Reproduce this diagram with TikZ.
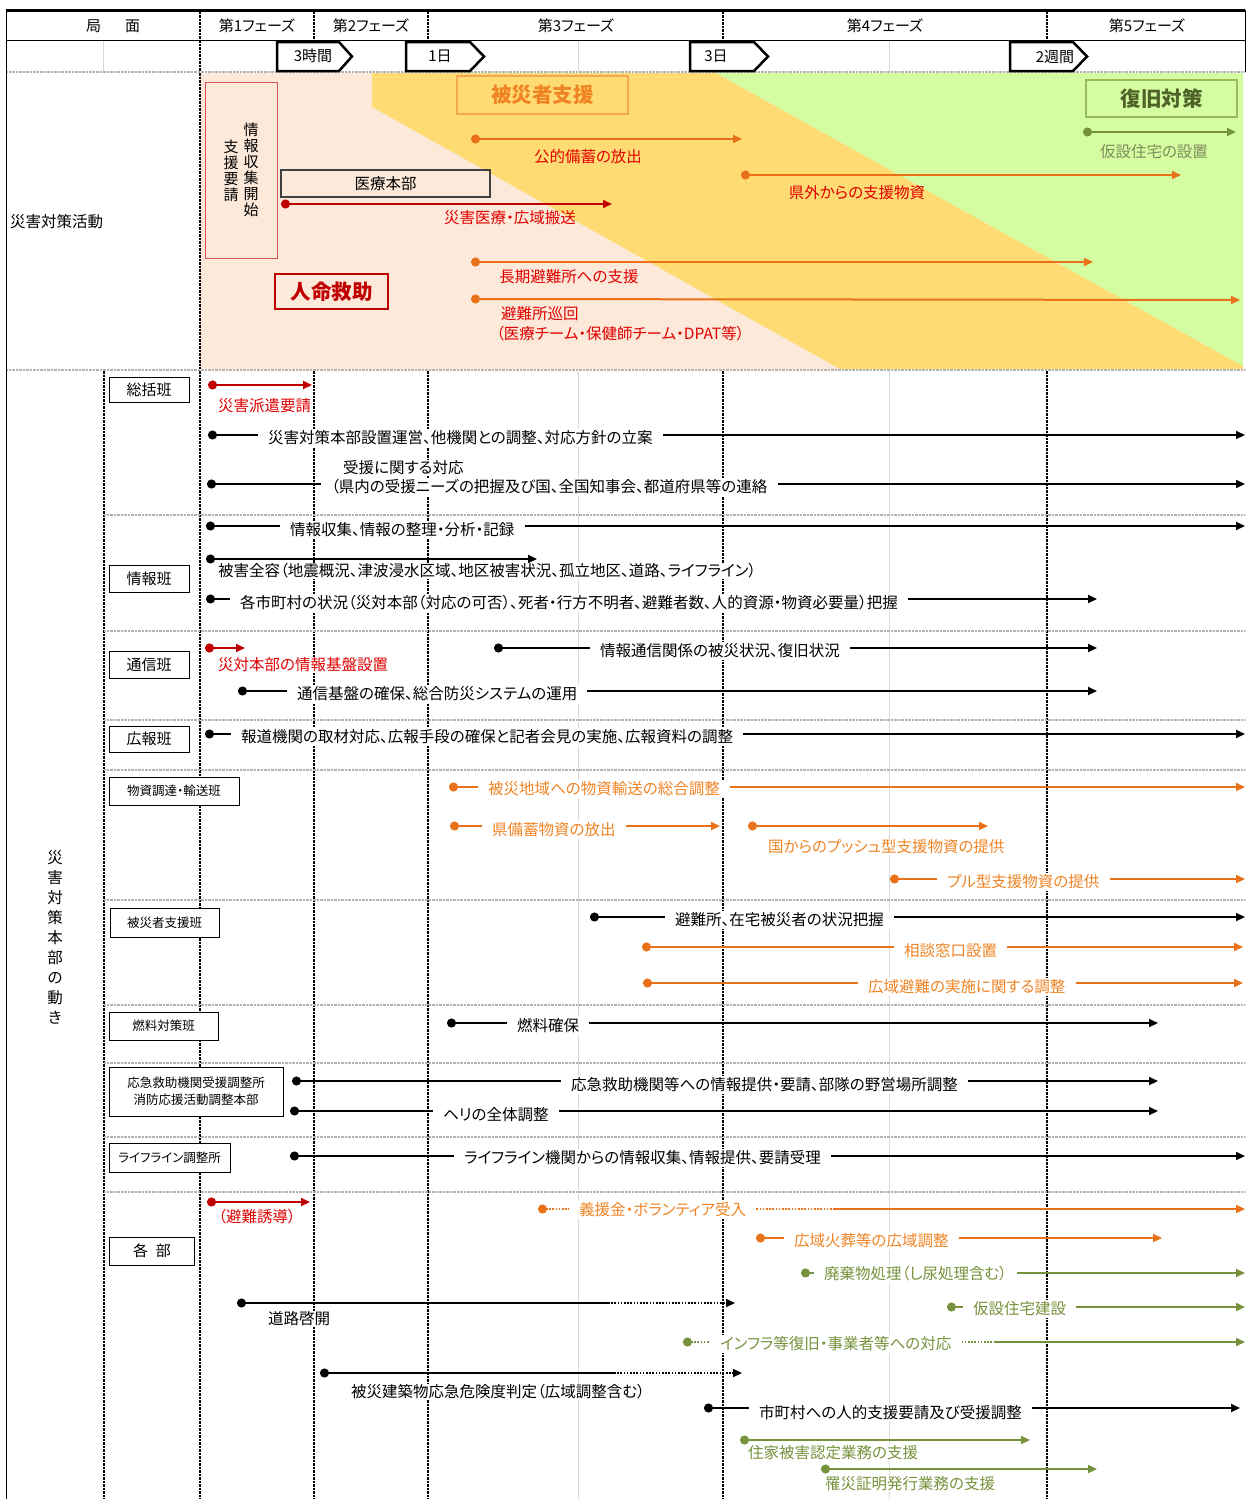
\documentclass[tikz,border=0pt]{standalone}
\usepackage{fontspec}
\setmainfont{Noto Sans CJK JP}[RawFeature=+palt]
\usetikzlibrary{arrows.meta}
\newcommand\fsz[2]{\fontsize{#1}{#2}\selectfont}
\definecolor{pch}{HTML}{FDE9D9}
\definecolor{yel}{HTML}{FFDC73}
\definecolor{grn}{HTML}{D4FCA0}
\definecolor{rdl}{HTML}{C00000}
\definecolor{rdt}{HTML}{E00000}
\definecolor{rdbox}{HTML}{E05050}
\definecolor{orl}{HTML}{E8711A}
\definecolor{ort}{HTML}{F08424}
\definecolor{orbox}{HTML}{F4A850}
\definecolor{gnl}{HTML}{76923C}
\definecolor{gnt}{HTML}{76923C}
\definecolor{gnbox}{HTML}{9BBB59}
\definecolor{gndk}{HTML}{4F6228}
\definecolor{gnlab}{HTML}{7F8C5C}
\definecolor{gry}{HTML}{D9D9D9}
\begin{document}
\begin{tikzpicture}[x=1pt,y=-1pt,
  every node/.style={inner sep=0pt},
  ln/.style={line width=2pt},
  dotS/.style={{Circle[length=9pt]}-},
  arrE/.style={-{Triangle[length=9pt,width=8pt]}},
  dotA/.style={{Circle[length=9pt]}-{Triangle[length=9pt,width=8pt]}},
  dotl/.style={dash pattern=on 1.6pt off 1.6pt},
  colline/.style={line width=1.2pt, dash pattern=on 2.5pt off 1pt},
  gridg/.style={draw=gry, line width=1pt},
  divider/.style={line width=2.4pt, draw=gray!60, dash pattern=on 0.8pt off 0.6pt},
  txt/.style={font=\fsz{15.5}{18}},
  lbl/.style={txt, fill=white, inner sep=1pt},
  cut/.style={txt, fill=white, inner xsep=10pt, inner ysep=1.5pt, anchor=west},
  blab/.style={draw, line width=1pt, fill=white, align=center},
  tbx/.style={line width=2.5pt, fill=white, line join=miter},
  hdr/.style={font=\fsz{15}{17}},
]
\useasboundingbox (0,0) rectangle (1247,1499);
\fill[white] (0,0) rectangle (1247,1499);

% ---------- top coloured area ----------
\fill[pch] (200,73) rectangle (1243,369);
\fill[yel] (372,73) -- (716,73) -- (1243,366) -- (1243,369) -- (840,369) -- (372,107) -- cycle;
\fill[grn] (716,73) -- (1243,73) -- (1243,366) -- cycle;

% ---------- grid ----------
\draw[gridg] (103,40) -- (103,71);
\draw[gridg] (578,40) -- (578,71);
\draw[gridg] (889,40) -- (889,71);
\draw[gridg] (578,371) -- (578,1499);
\draw[gridg] (889,371) -- (889,1499);
\foreach \x in {200,314,428,723,1047} \draw[colline] (\x,11.5) -- (\x,40);
\draw[colline] (200,40) -- (200,71);
\draw[colline] (200,73) -- (200,369);
\foreach \x in {104,200,314,428,723,1047} \draw[colline] (\x,371) -- (\x,1499);
\foreach \y in {515,631,720,770,900,1005,1063,1137,1192} \draw[divider] (104,\y) -- (1245,\y);
\draw[line width=3pt] (6,10) -- (1245,10);
\draw[line width=0.8pt] (6,40) -- (1245,40);
\draw[divider] (6,72) -- (1245,72);
\draw[divider] (6,370) -- (1245,370);
\draw[line width=1pt] (6,10) -- (6,1499);
\draw[line width=0.8pt] (1245,10) -- (1245,72);

% ---------- header ----------
\node[hdr] (hkyoku) at (113,26) {局\hspace{24pt}面};
\node[hdr] (hp1) at (257,26) {第1フェーズ};
\node[hdr] (hp2) at (371,26) {第2フェーズ};
\node[hdr] (hp3) at (576,26) {第3フェーズ};
\node[hdr] (hp4) at (885,26) {第4フェーズ};
\node[hdr] (hp5) at (1147,26) {第5フェーズ};
\draw[tbx] (277,42) -- (339,42) -- (352,56.5) -- (339,71) -- (277,71) -- cycle;
\node[hdr] (t3h) at (313,56) {3時間};
\draw[tbx] (406,42) -- (470,42) -- (484,56.5) -- (470,71) -- (406,71) -- cycle;
\node[hdr] (t1d) at (440,56) {1日};
\draw[tbx] (690,42) -- (754,42) -- (768,56.5) -- (754,71) -- (690,71) -- cycle;
\node[hdr] (t3d) at (716,56) {3日};
\draw[tbx] (1010,42) -- (1073,42) -- (1087,56.5) -- (1073,71) -- (1010,71) -- cycle;
\node[hdr] (t2w) at (1055,57) {2週間};

% ---------- top section ----------
\node[txt, anchor=west] (saigai) at (10,222) {災害対策活動};
\node[draw=rdbox, line width=1pt, minimum width=72pt, minimum height=176pt] (req) at (241,170) {};
\node[font=\fsz{15}{16}, align=center] (v1) at (251,170) {情\\報\\収\\集\\開\\始};
\node[font=\fsz{15}{16}, align=center] (v2) at (231,171) {支\\援\\要\\請};
\node[draw=black!75, line width=1.3pt, minimum width=209pt, minimum height=27pt, font=\fsz{15.5}{18}] (iryo) at (385.5,183.5) {医療本部};
\node[draw=rdl, line width=1.2pt, minimum width=113pt, minimum height=35pt, font=\bfseries\fsz{20.5}{23}, text=rdl] (jinmei) at (331.5,291.5) {人命救助};
\node[draw=orbox, line width=1.2pt, minimum width=171pt, minimum height=38pt, font=\bfseries\fsz{20.5}{23}, text=ort] (hisai) at (542.5,95) {被災者支援};
\node[draw=gnbox, line width=1.2pt, minimum width=151pt, minimum height=37pt, font=\bfseries\fsz{20.5}{23}, text=gndk] (fukkyu) at (1161.5,98.5) {復旧対策};

\coordinate (r1s) at (281,204); \coordinate (r1e) at (612,204);
\draw[rdl, ln, dotA] (r1s) -- (r1e);
\node[txt, text=rdt] (r1t) at (510,218) {災害医療・広域搬送};
\coordinate (k1s) at (471,139); \coordinate (k1e) at (742,139);
\draw[orl, ln, dotA] (k1s) -- (k1e);
\node[txt, text=rdt] (k1t) at (588,157) {公的備蓄の放出};
\coordinate (k2s) at (741,175); \coordinate (k2e) at (1181,175);
\draw[orl, ln, dotA] (k2s) -- (k2e);
\node[txt, text=rdt] (k2t) at (857,193) {県外からの支援物資};
\coordinate (k3s) at (471,262); \coordinate (k3e) at (1093,262);
\draw[orl, ln, dotA] (k3s) -- (k3e);
\node[txt, text=rdt] (k3t) at (569,277) {長期避難所への支援};
\coordinate (k4s) at (471,299); \coordinate (k4e) at (1240,300);
\draw[orl, ln, dotA] (k4s) -- (k4e);
\node[txt, text=rdt, anchor=west] (k4t) at (501,314) {避難所巡回};
\node[txt, text=rdt, anchor=west] (k4u) at (496,334) {（医療チーム・保健師チーム・DPAT等）};
\coordinate (g1s) at (1083,132); \coordinate (g1e) at (1236,132);
\draw[gnl, ln, dotA] (g1s) -- (g1e);
\node[txt, text=gnlab] (g1t) at (1154,152) {仮設住宅の設置};

% ---------- bottom section ----------
\node[font=\fsz{15.5}{20}, align=center] (honbu) at (55,937) {災\\害\\対\\策\\本\\部\\の\\動\\き};

% 総括班
\node[blab, font=\fsz{15}{17}, minimum width=80pt, minimum height=25pt] (sokatsu) at (149,389.5) {総括班};
\coordinate (a1s) at (208,385); \coordinate (a1e) at (312,385);
\draw[rdl, ln, dotA] (a1s) -- (a1e);
\node[lbl, text=rdt, anchor=west] (a1t) at (217,406) {災害派遣要請};

\coordinate (a2s) at (208,435); \coordinate (a2e) at (1245,435);
\node[cut] (a2t) at (258,438) {災害対策本部設置運営、他機関との調整、対応方針の立案};
\draw[ln, dotS] (a2s) -- (a2t.west |- a2s);
\draw[ln, arrE] (a2t.east |- a2s) -- (a2e);

\coordinate (a3s) at (207,484); \coordinate (a3e) at (1245,484);
\node[lbl, anchor=west] (a3u) at (342,468) {受援に関する対応};
\node[cut] (a3t) at (321,487) {（県内の受援ニーズの把握及び国、全国知事会、都道府県等の連絡};
\draw[ln, dotS] (a3s) -- (a3t.west |- a3s);
\draw[ln, arrE] (a3t.east |- a3s) -- (a3e);

% 情報班
\node[blab, font=\fsz{15}{17}, minimum width=80pt, minimum height=27pt] (joho) at (149,578.5) {情報班};
\coordinate (a4s) at (206,526); \coordinate (a4e) at (1245,526);
\node[cut] (a4t) at (280,530) {情報収集、情報の整理・分析・記録};
\draw[ln, dotS] (a4s) -- (a4t.west |- a4s);
\draw[ln, arrE] (a4t.east |- a4s) -- (a4e);

\coordinate (a5s) at (206,559); \coordinate (a5e) at (537,559);
\draw[ln, dotA] (a5s) -- (a5e);
\node[lbl, anchor=west] (a5t) at (217,571) {被害全容（地震概況、津波浸水区域、地区被害状況、孤立地区、道路、ライフライン）};

\coordinate (a6s) at (206,599); \coordinate (a6e) at (1097,599);
\node[cut] (a6t) at (230,603) {各市町村の状況（災対本部（対応の可否）、死者・行方不明者、避難者数、人的資源・物資必要量）把握};
\draw[ln, dotS] (a6s) -- (a6t.west |- a6s);
\draw[ln, arrE] (a6t.east |- a6s) -- (a6e);

% 通信班
\node[blab, font=\fsz{15}{17}, minimum width=80pt, minimum height=27pt] (tsushin) at (149,665) {通信班};
\coordinate (a7s) at (205,648); \coordinate (a7e) at (245,648);
\draw[rdl, ln, dotA] (a7s) -- (a7e);
\node[lbl, text=rdt, anchor=west] (a7t) at (217,665) {災対本部の情報基盤設置};

\coordinate (a8s) at (494,648); \coordinate (a8e) at (1097,648);
\node[cut] (a8t) at (590,651) {情報通信関係の被災状況、復旧状況};
\draw[ln, dotS] (a8s) -- (a8t.west |- a8s);
\draw[ln, arrE] (a8t.east |- a8s) -- (a8e);

\coordinate (a9s) at (238,691); \coordinate (a9e) at (1097,691);
\node[cut] (a9t) at (287,694) {通信基盤の確保、総合防災システムの運用};
\draw[ln, dotS] (a9s) -- (a9t.west |- a9s);
\draw[ln, arrE] (a9t.east |- a9s) -- (a9e);

% 広報班
\node[blab, font=\fsz{15}{17}, minimum width=80pt, minimum height=26pt] (koho) at (149,739) {広報班};
\coordinate (b1s) at (205,734); \coordinate (b1e) at (1245,734);
\node[cut] (b1t) at (231,737) {報道機関の取材対応、広報手段の確保と記者会見の実施、広報資料の調整};
\draw[ln, dotS] (b1s) -- (b1t.west |- b1s);
\draw[ln, arrE] (b1t.east |- b1s) -- (b1e);

% 物資調達・輸送班
\node[blab, font=\fsz{12.5}{14}, minimum width=130pt, minimum height=28pt] (busshi) at (174,791) {物資調達・輸送班};
\coordinate (b2s) at (449,787); \coordinate (b2e) at (1245,787);
\node[cut, text=ort] (b2t) at (478,789) {被災地域への物資輸送の総合調整};
\draw[orl, ln, dotS] (b2s) -- (b2t.west |- b2s);
\draw[orl, ln, arrE] (b2t.east |- b2s) -- (b2e);

\coordinate (b3s) at (450,826); \coordinate (b3e) at (720,826);
\node[cut, text=ort] (b3t) at (482,830) {県備蓄物資の放出};
\draw[orl, ln, dotS] (b3s) -- (b3t.west |- b3s);
\draw[orl, ln, arrE] (b3t.east |- b3s) -- (b3e);

\coordinate (b4s) at (748,826); \coordinate (b4e) at (988,826);
\draw[orl, ln, dotA] (b4s) -- (b4e);
\node[lbl, text=ort, anchor=west] (b4t) at (767,847) {国からのプッシュ型支援物資の提供};

\coordinate (b5s) at (890,879); \coordinate (b5e) at (1245,879);
\node[cut, text=ort] (b5t) at (937,882) {プル型支援物資の提供};
\draw[orl, ln, dotS] (b5s) -- (b5t.west |- b5s);
\draw[orl, ln, arrE] (b5t.east |- b5s) -- (b5e);

% 被災者支援班
\node[blab, font=\fsz{12.5}{14}, minimum width=109pt, minimum height=29pt] (hisaihan) at (164.5,922.5) {被災者支援班};
\coordinate (c1s) at (590,917); \coordinate (c1e) at (1245,917);
\node[cut] (c1t) at (665,920) {避難所、在宅被災者の状況把握};
\draw[ln, dotS] (c1s) -- (c1t.west |- c1s);
\draw[ln, arrE] (c1t.east |- c1s) -- (c1e);

\coordinate (c2s) at (642,947); \coordinate (c2e) at (1243,947);
\node[cut, text=ort] (c2t) at (894,951) {相談窓口設置};
\draw[orl, ln, dotS] (c2s) -- (c2t.west |- c2s);
\draw[orl, ln, arrE] (c2t.east |- c2s) -- (c2e);

\coordinate (c3s) at (643,983); \coordinate (c3e) at (1243,983);
\node[cut, text=ort] (c3t) at (858,987) {広域避難の実施に関する調整};
\draw[orl, ln, dotS] (c3s) -- (c3t.west |- c3s);
\draw[orl, ln, arrE] (c3t.east |- c3s) -- (c3e);

% 燃料対策班
\node[blab, font=\fsz{12.5}{14}, minimum width=109pt, minimum height=28pt] (nenryo) at (163.5,1026) {燃料対策班};
\coordinate (d1s) at (447,1023); \coordinate (d1e) at (1158,1023);
\node[cut] (d1t) at (507,1026) {燃料確保};
\draw[ln, dotS] (d1s) -- (d1t.west |- d1s);
\draw[ln, arrE] (d1t.east |- d1s) -- (d1e);

% 応急救助機関受援調整所
\node[blab, font=\fsz{12.5}{17}, minimum width=174pt, minimum height=49pt] (okyu) at (196,1091.5) {応急救助機関受援調整所\\消防応援活動調整本部};
\coordinate (d2s) at (292,1081); \coordinate (d2e) at (1158,1081);
\node[cut] (d2t) at (561,1085) {応急救助機関等への情報提供・要請、部隊の野営場所調整};
\draw[ln, dotS] (d2s) -- (d2t.west |- d2s);
\draw[ln, arrE] (d2t.east |- d2s) -- (d2e);

\coordinate (d3s) at (290,1111); \coordinate (d3e) at (1158,1111);
\node[cut] (d3t) at (433,1115) {ヘリの全体調整};
\draw[ln, dotS] (d3s) -- (d3t.west |- d3s);
\draw[ln, arrE] (d3t.east |- d3s) -- (d3e);

% ライフライン調整所
\node[blab, font=\fsz{12.5}{14}, minimum width=121pt, minimum height=29pt] (lifeline) at (169.5,1157.5) {ライフライン調整所};
\coordinate (d4s) at (290,1156); \coordinate (d4e) at (1245,1156);
\node[cut] (d4t) at (454,1158) {ライフライン機関からの情報収集、情報提供、要請受理};
\draw[ln, dotS] (d4s) -- (d4t.west |- d4s);
\draw[ln, arrE] (d4t.east |- d4s) -- (d4e);

% 各部
\node[blab, font=\fsz{15}{17}, minimum width=85pt, minimum height=28pt] (kakubu) at (152,1251) {各\hspace{8pt}部};
\coordinate (e1s) at (207,1202); \coordinate (e1e) at (310,1202);
\draw[rdl, ln, dotA] (e1s) -- (e1e);
\node[lbl, text=rdt] (e1t) at (257,1217) {（避難誘導）};

\coordinate (e2s) at (538,1209); \coordinate (e2m) at (835,1209); \coordinate (e2e) at (1245,1209);
\node[cut, text=ort] (e2t) at (569,1210) {義援金・ボランティア受入};
\draw[orl, ln, dotS, dotl] (e2s) -- (e2t.west |- e2s);
\draw[orl, ln, dotl] (e2t.east |- e2s) -- (e2m);
\draw[orl, ln, arrE] (e2m) -- (e2e);

\coordinate (e3s) at (756,1238); \coordinate (e3e) at (1162,1238);
\node[cut, text=ort] (e3t) at (784,1241) {広域火葬等の広域調整};
\draw[orl, ln, dotS] (e3s) -- (e3t.west |- e3s);
\draw[orl, ln, arrE] (e3t.east |- e3s) -- (e3e);

\coordinate (e4s) at (801,1273); \coordinate (e4e) at (1245,1273);
\node[cut, text=gnt] (e4t) at (814,1274) {廃棄物処理（し尿処理含む）};
\draw[gnl, ln, dotS] (e4s) -- (e4t.west |- e4s);
\draw[gnl, ln, arrE] (e4t.east |- e4s) -- (e4e);

\coordinate (e5s) at (237,1303); \coordinate (e5m) at (608,1303); \coordinate (e5e) at (735,1303);
\draw[ln, dotS] (e5s) -- (e5m);
\draw[ln, dotl, arrE] (e5m) -- (e5e);
\node[lbl, anchor=west] (e5t) at (267,1319) {道路啓開};

\coordinate (e6s) at (947,1307); \coordinate (e6e) at (1245,1307);
\node[cut, text=gnt] (e6t) at (963,1309) {仮設住宅建設};
\draw[gnl, ln, dotS] (e6s) -- (e6t.west |- e6s);
\draw[gnl, ln, arrE] (e6t.east |- e6s) -- (e6e);

\coordinate (e7s) at (683,1342); \coordinate (e7m) at (995,1342); \coordinate (e7e) at (1245,1342);
\node[cut, text=gnt] (e7t) at (710,1344) {インフラ等復旧・事業者等への対応};
\draw[gnl, ln, dotS, dotl] (e7s) -- (e7t.west |- e7s);
\draw[gnl, ln, dotl] (e7t.east |- e7s) -- (e7m);
\draw[gnl, ln, arrE] (e7m) -- (e7e);

\coordinate (e8s) at (320,1373); \coordinate (e8m) at (614,1373); \coordinate (e8e) at (742,1373);
\draw[ln, dotS] (e8s) -- (e8m);
\draw[ln, dotl, arrE] (e8m) -- (e8e);
\node[lbl, anchor=west] (e8t) at (350,1392) {被災建築物応急危険度判定（広域調整含む）};

\coordinate (e9s) at (704,1408); \coordinate (e9e) at (1240,1408);
\node[cut] (e9t) at (749,1413) {市町村への人的支援要請及び受援調整};
\draw[ln, dotS] (e9s) -- (e9t.west |- e9s);
\draw[ln, arrE] (e9t.east |- e9s) -- (e9e);

\coordinate (f1s) at (740,1440); \coordinate (f1e) at (1030,1440);
\draw[gnl, ln, dotA] (f1s) -- (f1e);
\node[lbl, text=gnt, anchor=west] (f1t) at (747,1453) {住家被害認定業務の支援};

\coordinate (f2s) at (821,1469); \coordinate (f2e) at (1097,1469);
\draw[gnl, ln, dotA] (f2s) -- (f2e);
\node[lbl, text=gnt, anchor=west] (f2t) at (824,1484) {罹災証明発行業務の支援};
\end{tikzpicture}
\end{document}
